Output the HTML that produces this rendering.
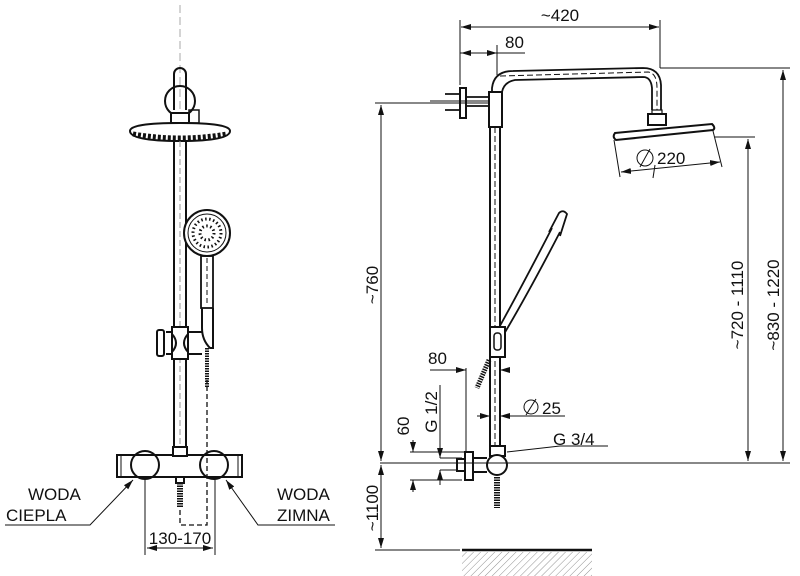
<!DOCTYPE html>
<html><head><meta charset="utf-8"><style>
html,body{margin:0;padding:0;background:#fff;}
svg{display:block;}
text{font-family:"Liberation Sans",sans-serif;fill:#111;}
</style></head><body>
<svg width="800" height="576" viewBox="0 0 800 576" xmlns="http://www.w3.org/2000/svg">
<defs>
<marker id="a" viewBox="0 0 10 6" refX="10" refY="3" markerWidth="10" markerHeight="6" orient="auto-start-reverse" markerUnits="userSpaceOnUse"><path d="M0,0 L10,3 L0,6 z" fill="#111"/></marker>
<pattern id="h" width="5" height="5" patternUnits="userSpaceOnUse" patternTransform="rotate(45)"><line x1="0" y1="0" x2="0" y2="5" stroke="#777" stroke-width="0.8"/></pattern>
</defs>
<g fill="none" stroke="#111" stroke-width="2">
<!-- LEFT FRONT VIEW -->
<line x1="180" y1="5" x2="180" y2="455" stroke="#aaa" stroke-width="1" stroke-dasharray="8,4"/>
<path d="M174,110 V74 A6,6 0 0 1 186,74 V110"/>
<circle cx="180" cy="101" r="15"/>
<rect x="171" y="113" width="18" height="10" fill="#fff"/>
<rect x="189" y="110" width="10" height="13" stroke-width="1.5"/>
<path d="M130,131 Q130,123 180,123 Q230,123 230,131 Q230,141 180,141 Q130,141 130,131 Z" fill="#fff"/>
<path d="M133,134 Q180,142 227,134" stroke-width="5" stroke-dasharray="3,2"/>
<rect x="174" y="141" width="12" height="310" fill="#fff"/>
<line x1="180" y1="141" x2="180" y2="451" stroke="#999" stroke-width="1" stroke-dasharray="6,3"/>
<circle cx="207" cy="233" r="23" fill="#fff"/>
<circle cx="207" cy="233" r="19" stroke-width="1"/>
<circle cx="207" cy="233" r="14" stroke-width="3" stroke-dasharray="1.5,2.5"/>
<circle cx="207" cy="233" r="7" stroke-width="3" stroke-dasharray="1.5,2.5"/>
<rect x="201" y="256" width="12" height="52" stroke-width="1.8"/>
<line x1="207" y1="258" x2="207" y2="306" stroke-width="1" stroke-dasharray="5,3"/>
<path d="M202,308 V328 Q202,340 210,348 H213 V308"/>
<line x1="207" y1="348" x2="207" y2="388" stroke-width="4" stroke-dasharray="1.5,1"/>
<rect x="172" y="327" width="16" height="32" fill="#fff"/>
<path d="M166,332 H172 M166,354 H172 M188,332 H202 M188,354 H202 M172,334 Q180,343 172,352 M188,334 Q180,343 188,352"/>
<rect x="157" y="330" width="7" height="26" rx="2"/>
<!-- mixer -->
<rect x="117" y="455" width="125" height="22" fill="#fff"/>
<line x1="121" y1="456" x2="121" y2="476" stroke-width="1"/>
<line x1="238" y1="456" x2="238" y2="476" stroke-width="1"/>
<circle cx="145" cy="465" r="14"/>
<circle cx="214" cy="465" r="14"/>
<rect x="173" y="447" width="14" height="9" fill="#fff"/>
<rect x="176" y="477" width="8" height="6"/>
<line x1="180" y1="483" x2="180" y2="508" stroke-width="6" stroke-dasharray="1.5,1"/>
<path d="M180,510 V525 H207 V380" stroke-width="1.3" stroke-dasharray="5,3"/>
<path d="M145,478 V555 M215,478 V555" stroke-width="1"/>
<line x1="147" y1="548" x2="213" y2="548" stroke-width="1" marker-start="url(#a)" marker-end="url(#a)"/>
<path d="M5,525 H90 L133,480" stroke-width="1" marker-end="url(#a)"/>
<path d="M335,525 H258 L226,480" stroke-width="1" marker-end="url(#a)"/>

<!-- RIGHT SIDE VIEW -->
<line x1="490" y1="127" x2="490" y2="450"/>
<line x1="500" y1="127" x2="500" y2="450"/>
<line x1="495" y1="127" x2="495" y2="450" stroke-width="1" stroke-dasharray="6,3"/>
<rect x="489" y="92" width="13" height="35" fill="#fff"/>
<path d="M492,92 V88 Q494,71 513,71 L643,68 Q660,68 661,85 V110 M502,92 Q504,82 515,80 L643,77 Q651,77 652,88 V110" stroke-width="1.8"/>
<path d="M500,76 L648,72 Q657,73 657,88 V110" stroke-width="1" stroke-dasharray="6,3"/>
<rect x="652" y="110" width="10" height="6" stroke-width="1.2"/>
<rect x="648" y="114" width="18" height="11" fill="#fff"/>
<path d="M615,133 L712,124 Q716,128 713,130 L616,140 Q612,137 615,133 Z" fill="#fff"/>
<rect x="460" y="88" width="6" height="30" fill="#fff"/>
<path d="M445,94 H460 M445,110 H460 M466,97 H489 M466,106 H489" stroke-width="1.8"/>
<line x1="430" y1="101" x2="489" y2="101" stroke-width="1"/>
<!-- hand shower -->
<path d="M496,333 Q520,290 552,228 M504,334 Q530,290 560,232" stroke-width="1.8"/>
<path d="M549,232 L559,213 Q563,209 567,214 L560,236" stroke-width="1.8"/>
<rect x="490" y="327" width="15" height="30" fill="#fff"/>
<rect x="494" y="333" width="7" height="17" rx="3" stroke-width="1.5"/>
<line x1="489" y1="360" x2="477" y2="388" stroke-width="5" stroke-dasharray="1.5,1"/>
<!-- bottom fitting -->
<rect x="490" y="446" width="15" height="10" fill="#fff"/>
<path d="M472,458 H487 M472,472 H487"/>
<rect x="465" y="452" width="8" height="28" fill="#fff"/>
<rect x="457" y="459" width="8" height="12" fill="#fff"/>
<circle cx="497" cy="465" r="10" fill="#fff"/>
<line x1="497" y1="477" x2="497" y2="508" stroke-width="6" stroke-dasharray="1.5,1"/>
<!-- dims right -->
<g stroke-width="1">
<path d="M460,20 V85 M497,45 V75 M660,20 V68"/>
<line x1="461" y1="27" x2="659" y2="27" marker-start="url(#a)" marker-end="url(#a)"/>
<line x1="461" y1="53" x2="497" y2="53" marker-start="url(#a)" marker-end="url(#a)"/>
<path d="M460,53 H525"/>
<line x1="621" y1="172" x2="720" y2="162" marker-start="url(#a)" marker-end="url(#a)"/>
<path d="M614,140 L620,177 M713,131 L722,167"/>
<path d="M660,68 H790 M715,137 H755 M380,463 H790 M375,103 H490 M375,550 H460"/>
<line x1="748" y1="139" x2="748" y2="461" marker-start="url(#a)" marker-end="url(#a)"/>
<line x1="783" y1="70" x2="783" y2="461" marker-start="url(#a)" marker-end="url(#a)"/>
<line x1="381" y1="105" x2="381" y2="461" marker-start="url(#a)" marker-end="url(#a)"/>
<line x1="381" y1="465" x2="381" y2="548" marker-start="url(#a)" marker-end="url(#a)"/>
<path d="M466,368 V452"/>
<line x1="430" y1="370" x2="466" y2="370" marker-end="url(#a)"/>
<line x1="510" y1="370" x2="500" y2="370" marker-end="url(#a)"/>
<line x1="477" y1="416" x2="490" y2="416" marker-end="url(#a)"/>
<line x1="515" y1="416" x2="500" y2="416" marker-end="url(#a)"/>
<path d="M515,416 H565"/>
<path d="M507,452 L560,446 H608"/>
<path d="M410,452 H465 M410,480 H462 M440,458 H462 M440,470 H456"/>
<line x1="440" y1="385" x2="440" y2="458" marker-end="url(#a)"/>
<line x1="440" y1="485" x2="440" y2="470" marker-end="url(#a)"/>
<line x1="413" y1="440" x2="413" y2="452" marker-end="url(#a)"/>
<line x1="413" y1="492" x2="413" y2="480" marker-end="url(#a)"/>
<path d="M655,165 L653,178" />
</g>
<line x1="462" y1="550" x2="592" y2="550" stroke-width="2.5"/>
</g>
<rect x="462" y="552" width="130" height="24" fill="url(#h)"/>
<circle cx="531" cy="407" r="7" fill="none" stroke="#111" stroke-width="1"/>
<line x1="526" y1="415" x2="536" y2="399" stroke="#111" stroke-width="1"/>
<circle cx="645" cy="158" r="8" fill="none" stroke="#111" stroke-width="1"/>
<line x1="640" y1="167" x2="650" y2="149" stroke="#111" stroke-width="1"/>
<g font-size="17">
<text x="28" y="500">WODA</text>
<text x="6" y="521">CIEPLA</text>
<text x="277" y="500">WODA</text>
<text x="277" y="521">ZIMNA</text>
<text x="180" y="544" text-anchor="middle">130-170</text>
<text x="560" y="21" text-anchor="middle">~420</text>
<text x="505" y="48">80</text>
<text x="657" y="164">220</text>
<text x="428" y="364">80</text>
<text x="542" y="414">25</text>
<text x="553" y="445">G 3/4</text>
<text transform="translate(378,285) rotate(-90)" text-anchor="middle">~760</text>
<text transform="translate(378,508) rotate(-90)" text-anchor="middle">~1100</text>
<text transform="translate(743,305) rotate(-90)" text-anchor="middle">~720 - 1110</text>
<text transform="translate(779,305) rotate(-90)" text-anchor="middle">~830 - 1220</text>
<text transform="translate(437,412) rotate(-90)" text-anchor="middle">G 1/2</text>
<text transform="translate(409,426) rotate(-90)" text-anchor="middle">60</text>
</g>
</svg>
</body></html>
